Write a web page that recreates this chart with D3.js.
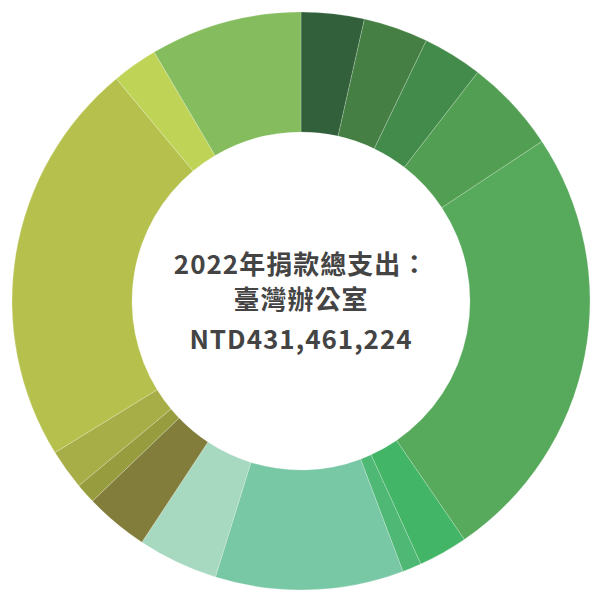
<!DOCTYPE html>
<html lang="zh-Hant">
<head>
<meta charset="utf-8">
<title>2022年捐款總支出</title>
<script src="https://cdn.jsdelivr.net/npm/d3@7"></script>
<style>
  html, body { margin: 0; padding: 0; background: #fff; }
</style>
</head>
<body>
<script type="text/javascript">

var width = 590;
var height = 591;

// 各項支出（百萬台幣，由圖估算），順時針由正上方起
var amounts = [15.2, 15.6, 14.4, 22.5, 106.8, 11.9, 4.6, 45.4, 19.4, 15.3, 4.9, 9.7, 98.2, 11.0, 36.6];
var colors = ["#31603a", "#467f43", "#438b4a", "#529e52", "#57a95c", "#43b566", "#4fb874",
              "#78c8a5", "#a7d8c0", "#827d3a", "#979c3e", "#a8ae47", "#b6c14d", "#bfd457", "#85bd5e"];
var titleLines = ["2022年捐款總支出：", "臺灣辦公室", "NTD431,461,224"];

var svg = d3.select("body").append("svg")
            .attr("width", width)
            .attr("height", height);

var g = svg.append("g")
           .attr("transform", "translate(301,301)");

var pie = d3.pie().sort(null).value((d) => d);
var arc = d3.arc().innerRadius(169).outerRadius(289);

g.selectAll("path")
    .data(pie(amounts))
    .enter()
    .append("path")
    .attr("d", arc)
    .attr("fill", (d, i) => colors[i])
    .attr("stroke", "#ffffff")
    .attr("stroke-opacity", 0.35)
    .attr("stroke-width", 0.6);

var baselines = [-27, 8, 48];

g.selectAll("text")
    .data(titleLines)
    .enter()
    .append("text")
    .attr("x", 0)
    .attr("y", (d, i) => baselines[i])
    .attr("text-anchor", "middle")
    .style("font-family", "'Noto Sans CJK TC', 'Noto Sans', sans-serif")
    .style("font-weight", "bold")
    .style("font-size", "26px")
    .style("letter-spacing", "1px")
    .style("fill", "#444444")
    .text((d) => d);

</script>
</body>
</html>
